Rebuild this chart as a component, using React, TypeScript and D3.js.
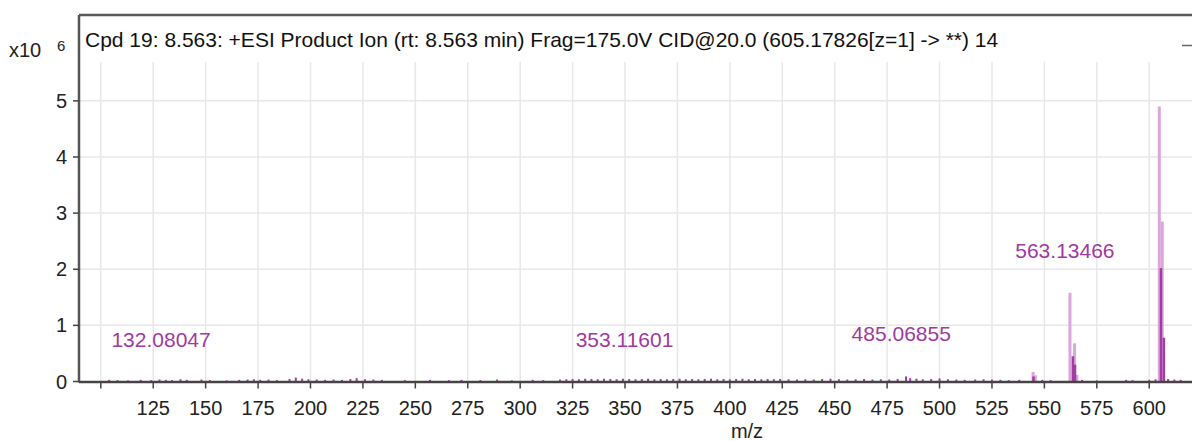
import { useEffect, useRef } from "react";
import * as d3 from "d3";

const W = 1192;
const H = 441;

const TITLE =
  "Cpd 19: 8.563: +ESI Product Ion (rt: 8.563 min) Frag=175.0V CID@20.0 (605.17826[z=1] -> **) 14";

const xTicks = [100, 125, 150, 175, 200, 225, 250, 275, 300, 325, 350, 375, 400, 425, 450, 475, 500, 525, 550, 575, 600];
const yTicks = [0, 1e6, 2e6, 3e6, 4e6, 5e6];

// profile bars (light)
const profileMz = [544.6, 545.7, 562.2, 564.4, 565.5, 604.8, 606.2];
const profileInt = [170000, 110000, 1580000, 680000, 120000, 4900000, 2850000];

// centroid bars (dark)
const centroidMz = [544.8, 563.6, 564.6, 605.6, 607.0];
const centroidInt = [90000, 450000, 300000, 2020000, 780000];

// baseline noise
const noise: [number, number][] = [
  [104, 30000], [108, 25000], [113, 20000], [119, 30000], [124, 25000], [128, 35000], [131, 30000],
  [134, 25000], [138, 40000], [141, 30000], [148, 35000], [152, 25000], [160, 20000], [166, 30000],
  [170, 35000], [173, 40000], [176, 30000], [180, 35000], [184, 25000], [190, 45000], [193, 70000],
  [196, 50000], [199, 40000], [203, 35000], [207, 30000], [211, 35000], [215, 30000], [219, 45000],
  [222, 60000], [226, 40000], [230, 35000], [234, 30000], [245, 25000], [257, 30000], [266, 25000],
  [272, 30000], [281, 25000], [289, 35000], [296, 20000], [306, 30000], [311, 25000], [319, 35000],
  [322, 40000], [325, 45000], [328, 40000], [331, 50000], [334, 45000], [337, 40000], [340, 50000],
  [343, 45000], [346, 40000], [349, 50000], [352, 45000], [355, 40000], [358, 45000], [361, 50000],
  [364, 40000], [367, 45000], [370, 40000], [373, 45000], [376, 50000], [379, 40000], [382, 45000],
  [385, 40000], [388, 45000], [391, 50000], [394, 40000], [397, 45000], [400, 40000], [403, 45000],
  [406, 50000], [409, 40000], [412, 45000], [415, 40000], [418, 45000], [421, 40000], [424, 45000],
  [428, 40000], [432, 35000], [436, 40000], [440, 35000], [444, 45000], [448, 50000], [452, 40000],
  [456, 35000], [460, 40000], [464, 45000], [468, 35000], [472, 40000], [476, 35000], [480, 45000],
  [484, 90000], [486, 60000], [489, 50000], [492, 40000], [496, 45000], [500, 55000], [504, 40000],
  [508, 35000], [512, 30000], [517, 35000], [521, 40000], [525, 35000], [529, 30000], [533, 25000],
  [538, 30000], [549, 30000], [553, 25000], [568, 30000], [575, 20000], [589, 30000], [592, 25000],
  [600, 30000], [603, 40000], [609, 45000], [612, 35000], [615, 30000],
];

// peak annotations: m/z, text, intensity level of the label
const labelMz = [132.08, 353.12, 485.07, 563.13];
const labelText = ["132.08047", "353.11601", "485.06855", "563.13466"];
const labelLevel = [740000, 740000, 850000, 2330000];

export default function App() {
  const ref = useRef<SVGSVGElement>(null);

  useEffect(() => {
    if (!ref.current) return;
    const svg = d3.select(ref.current);
    svg.selectAll("*").remove();

    const left = 79;
    const right = W;
    const top = 15;
    const base = 381.5;
    const font = "'Liberation Sans', Arial, sans-serif";

    const x = d3.scaleLinear().domain([89.6, 620.4]).range([left, right]);
    const y = d3.scaleLinear().domain([0, 6.53e6]).range([base, top]);

    // grid
    svg
      .append("g")
      .selectAll("line")
      .data(xTicks)
      .join("line")
      .attr("x1", (d) => x(d))
      .attr("x2", (d) => x(d))
      .attr("y1", 62)
      .attr("y2", base)
      .attr("stroke", "#e8e8e8")
      .attr("stroke-width", 1.5);
    svg
      .append("g")
      .selectAll("line")
      .data(yTicks.slice(1))
      .join("line")
      .attr("x1", left)
      .attr("x2", right)
      .attr("y1", (d) => y(d))
      .attr("y2", (d) => y(d))
      .attr("stroke", "#e8e8e8")
      .attr("stroke-width", 1.5);

    // noise
    svg
      .append("g")
      .selectAll("line")
      .data(noise)
      .join("line")
      .attr("x1", (d) => x(d[0]))
      .attr("x2", (d) => x(d[0]))
      .attr("y1", base)
      .attr("y2", (d) => y(d[1]))
      .attr("stroke", "#a040a0")
      .attr("stroke-width", 2);

    // profile bars
    svg
      .append("g")
      .selectAll("line")
      .data(profileMz)
      .join("line")
      .attr("x1", (d) => x(d))
      .attr("x2", (d) => x(d))
      .attr("y1", base)
      .attr("y2", (_, i) => y(profileInt[i]))
      .attr("stroke", "#dba6db")
      .attr("stroke-width", 3);

    // centroid bars
    svg
      .append("g")
      .selectAll("line")
      .data(centroidMz)
      .join("line")
      .attr("x1", (d) => x(d))
      .attr("x2", (d) => x(d))
      .attr("y1", base)
      .attr("y2", (_, i) => y(centroidInt[i]))
      .attr("stroke", "#a23ca2")
      .attr("stroke-width", 2.5);

    // annotations
    svg
      .append("g")
      .selectAll("text")
      .data(labelMz)
      .join("text")
      .attr("x", (d) => x(d) - 7)
      .attr("y", (_, i) => y(labelLevel[i]) + 7)
      .attr("text-anchor", "middle")
      .attr("font-family", font)
      .attr("font-size", 21)
      .attr("fill", "#a03aa0")
      .text((_, i) => labelText[i]);

    // frame
    svg
      .append("line")
      .attr("x1", left)
      .attr("x2", right)
      .attr("y1", top)
      .attr("y2", top)
      .attr("stroke", "#5a5a5a")
      .attr("stroke-width", 2.5);
    svg
      .append("line")
      .attr("x1", left)
      .attr("x2", left)
      .attr("y1", top)
      .attr("y2", base + 1)
      .attr("stroke", "#555")
      .attr("stroke-width", 2.5);
    svg
      .append("line")
      .attr("x1", left)
      .attr("x2", right)
      .attr("y1", base + 0.5)
      .attr("y2", base + 0.5)
      .attr("stroke", "#444")
      .attr("stroke-width", 2.5);

    // x axis ticks + labels
    const xg = svg.append("g");
    xg.selectAll("line")
      .data(xTicks)
      .join("line")
      .attr("x1", (d) => x(d))
      .attr("x2", (d) => x(d))
      .attr("y1", base + 1)
      .attr("y2", base + 7)
      .attr("stroke", "#444")
      .attr("stroke-width", 1.5);
    xg.selectAll("text")
      .data(xTicks.filter((d) => d !== 100))
      .join("text")
      .attr("x", (d) => x(d))
      .attr("y", 415)
      .attr("text-anchor", "middle")
      .attr("font-family", font)
      .attr("font-size", 20)
      .attr("fill", "#222")
      .text((d) => d);

    // y axis ticks + labels
    const yg = svg.append("g");
    yg.selectAll("line")
      .data(yTicks)
      .join("line")
      .attr("x1", left - 6)
      .attr("x2", left)
      .attr("y1", (d) => y(d))
      .attr("y2", (d) => y(d))
      .attr("stroke", "#444")
      .attr("stroke-width", 1.5);
    yg.selectAll("text")
      .data(yTicks)
      .join("text")
      .attr("x", 67)
      .attr("y", (d) => y(d) + 7)
      .attr("text-anchor", "end")
      .attr("font-family", font)
      .attr("font-size", 20)
      .attr("fill", "#222")
      .text((d) => d / 1e6);

    // exponent
    svg
      .append("text")
      .attr("x", 9)
      .attr("y", 57)
      .attr("font-family", font)
      .attr("font-size", 20)
      .attr("fill", "#222")
      .text("x10");
    svg
      .append("text")
      .attr("x", 57)
      .attr("y", 51)
      .attr("font-family", font)
      .attr("font-size", 15)
      .attr("fill", "#222")
      .text("6");

    // title
    svg
      .append("text")
      .attr("x", 85)
      .attr("y", 47)
      .attr("font-family", font)
      .attr("font-size", 21)
      .attr("fill", "#111")
      .text(TITLE);

    svg
      .append("line")
      .attr("x1", 1182)
      .attr("x2", 1192)
      .attr("y1", 45.5)
      .attr("y2", 45.5)
      .attr("stroke", "#666")
      .attr("stroke-width", 1.5);

    // axis title
    svg
      .append("text")
      .attr("x", 747)
      .attr("y", 438)
      .attr("text-anchor", "middle")
      .attr("font-family", font)
      .attr("font-size", 20)
      .attr("fill", "#222")
      .text("m/z");
  }, []);

  return (
    <svg
      ref={ref}
      width={W}
      height={H}
      style={{ position: "absolute", left: 0, top: 0, background: "#fff" }}
    />
  );
}
